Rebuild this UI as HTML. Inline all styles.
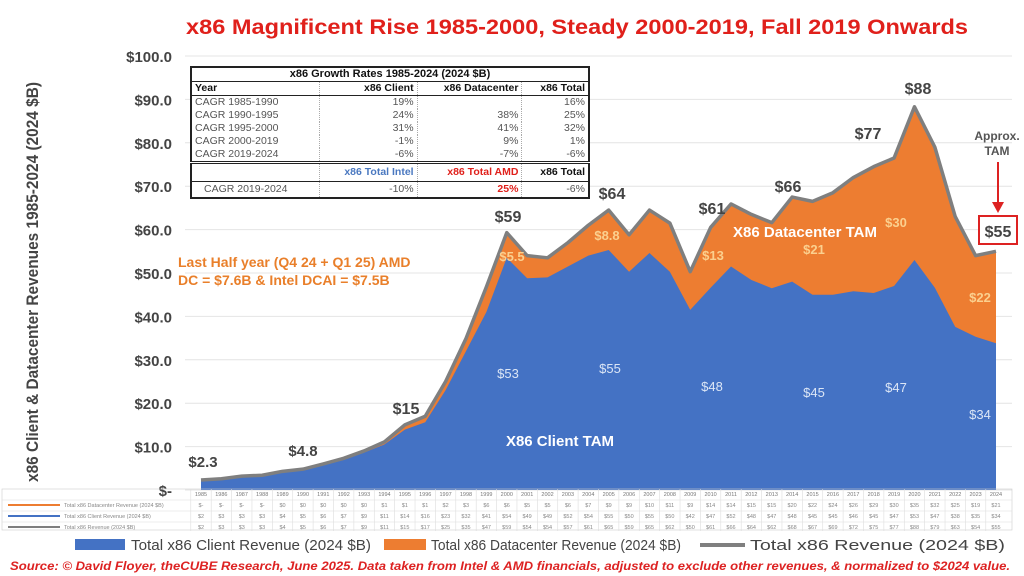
<!DOCTYPE html>
<html><head><meta charset="utf-8"><style>
body{margin:0;width:1024px;height:576px;background:#fff;font-family:"Liberation Sans",sans-serif;overflow:hidden;position:relative}
#cagr{position:absolute;left:190px;top:66px;width:400px;border:2px solid #222;border-collapse:collapse;font-size:10.5px;background:#fff}
#cagr td{padding:0 3px;height:13px;line-height:13px;border-right:1px dotted #aaa;color:#555}
#cagr .h td{font-weight:bold;color:#111}
#cagr td.r{text-align:right}
</style></head><body>
<svg id="chart" width="1024" height="576" style="position:absolute;left:0;top:0" font-family="Liberation Sans, sans-serif">
<text x="186" y="34" textLength="782" lengthAdjust="spacingAndGlyphs" font-size="21" font-weight="bold" fill="#e0201b">x86 Magnificent Rise 1985-2000, Steady 2000-2019, Fall 2019 Onwards</text>
<text transform="translate(38,282) rotate(-90)" text-anchor="middle" textLength="400" lengthAdjust="spacingAndGlyphs" font-size="17" font-weight="bold" fill="#444">x86 Client &amp; Datacenter Revenues 1985-2024 (2024 $B)</text>
<g id="grid"></g><g id="areas"></g><g id="ylabels"></g><g id="dtable"></g>
<g font-weight="bold" text-anchor="middle">
<text x="203" y="467" font-size="15" fill="#444">$2.3</text>
<text x="303" y="456" font-size="15" fill="#444">$4.8</text>
<text x="406" y="414" font-size="16" fill="#444">$15</text>
<text x="508" y="222" font-size="16" fill="#444">$59</text>
<text x="612" y="199" font-size="16" fill="#444">$64</text>
<text x="712" y="214" font-size="16" fill="#444">$61</text>
<text x="788" y="192" font-size="16" fill="#444">$66</text>
<text x="868" y="139" font-size="16" fill="#444">$77</text>
<text x="918" y="94" font-size="16" fill="#444">$88</text>
<text x="997" y="140" font-size="12" fill="#555">Approx.</text>
<text x="997" y="155" font-size="12" fill="#555">TAM</text>
<line x1="998" y1="162" x2="998" y2="204" stroke="#d22" stroke-width="2"/>
<polygon points="992,202 1004,202 998,213" fill="#d22"/>
<rect x="979" y="216" width="38" height="28" fill="#fff" stroke="#d22" stroke-width="2"/>
<text x="998" y="237" font-size="16" fill="#444">$55</text>
<g fill="#fbd08f" font-size="13">
<text x="512" y="261">$5.5</text>
<text x="607" y="240">$8.8</text>
<text x="713" y="260">$13</text>
<text x="814" y="254">$21</text>
<text x="896" y="227">$30</text>
<text x="980" y="302">$22</text>
</g>
<g fill="#dce6f6" font-size="13" font-weight="normal">
<text x="508" y="378">$53</text>
<text x="610" y="373">$55</text>
<text x="712" y="391">$48</text>
<text x="814" y="397">$45</text>
<text x="896" y="392">$47</text>
<text x="980" y="419">$34</text>
</g>
<text x="805" y="237" font-size="15" fill="#fff">X86 Datacenter TAM</text>
<text x="560" y="446" font-size="15" fill="#fff">X86 Client TAM</text>
</g>
<text x="178" y="267" font-size="14" font-weight="bold" fill="#e97f2a">Last Half year (Q4 24 + Q1 25) AMD</text>
<text x="178" y="285" font-size="14" font-weight="bold" fill="#e97f2a">DC = $7.6B &amp; Intel DCAI = $7.5B</text>
<g font-size="15" fill="#444">
<rect x="75" y="539" width="50" height="11" fill="#4472c4"/><text x="131" y="550" textLength="240" lengthAdjust="spacingAndGlyphs">Total x86 Client Revenue (2024 $B)</text>
<rect x="384" y="539" width="42" height="11" fill="#ed7d31"/><text x="431" y="550" textLength="250" lengthAdjust="spacingAndGlyphs">Total x86 Datacenter Revenue (2024 $B)</text>
<line x1="700" y1="545" x2="745" y2="545" stroke="#7f7f7f" stroke-width="4"/><text x="750" y="550" textLength="255" lengthAdjust="spacingAndGlyphs">Total x86 Revenue (2024 $B)</text>
</g>
<text x="10" y="570" textLength="1000" lengthAdjust="spacingAndGlyphs" font-size="12" font-weight="bold" font-style="italic" fill="#d22">Source: © David Floyer, theCUBE Research, June 2025. Data taken from Intel &amp; AMD financials, adjusted to exclude other revenues, &amp; normalized to $2024 value.</text>
</svg>
<table id="cagr">
<tr class="h"><td colspan="4" style="text-align:center;font-size:11px;border-bottom:1px solid #222">x86 Growth Rates 1985-2024 (2024 $B)</td></tr>
<tr class="h" style="border-bottom:1px solid #222"><td>Year</td><td class="r">x86 Client</td><td class="r">x86 Datacenter</td><td class="r">x86 Total</td></tr>
<tr><td>CAGR 1985-1990</td><td class="r">19%</td><td class="r"></td><td class="r">16%</td></tr>
<tr><td>CAGR 1990-1995</td><td class="r">24%</td><td class="r">38%</td><td class="r">25%</td></tr>
<tr><td>CAGR 1995-2000</td><td class="r">31%</td><td class="r">41%</td><td class="r">32%</td></tr>
<tr><td>CAGR 2000-2019</td><td class="r">-1%</td><td class="r">9%</td><td class="r">1%</td></tr>
<tr style="border-bottom:3px double #222"><td>CAGR 2019-2024</td><td class="r">-6%</td><td class="r">-7%</td><td class="r">-6%</td></tr>
<tr class="h" style="border-bottom:1px solid #222"><td style="height:17px"></td><td class="r" style="color:#4a78c0">x86 Total Intel</td><td class="r" style="color:#e0201b">x86 Total AMD</td><td class="r">x86 Total</td></tr>
<tr><td style="padding-left:12px;height:15px">CAGR 2019-2024</td><td class="r">-10%</td><td class="r" style="color:#e0201b;font-weight:bold">25%</td><td class="r">-6%</td></tr>
</table>
<script>
const years=[1985,1986,1987,1988,1989,1990,1991,1992,1993,1994,1995,1996,1997,1998,1999,2000,2001,2002,2003,2004,2005,2006,2007,2008,2009,2010,2011,2012,2013,2014,2015,2016,2017,2018,2019,2020,2021,2022,2023,2024];
const clientRev=[2.3,2.6,3.2,3.4,4.0,4.6,5.8,6.9,8.6,10.5,13.9,15.6,23,32,41,53.5,48.8,49,51.5,54,55.3,50.3,54.6,50.3,41.5,46.6,51.5,48.4,46.5,48,45,45,45.8,45.4,47,53,46.6,37.6,35.3,33.8];
const dcRev=[0,0,0,0,0.3,0.2,0.2,0.4,0.4,0.6,1.1,1.4,2,2.9,5.8,5.8,5.2,4.5,5.5,7,9.2,8.5,9.9,11.2,8.8,13.9,14.4,15.1,15.1,19.5,21.5,23.5,26.2,29.1,29.5,35.3,32.4,25.4,18.7,21.2];
const yTicks=[0,10,20,30,40,50,60,70,80,90,100];
const NS="http://www.w3.org/2000/svg";
const X0=201,X1=996,Y0=490,Y1=56,VMAX=100;
const xs=i=>X0+(X1-X0)*i/(years.length-1);
const ys=v=>Y0-(Y0-Y1)*v/VMAX;
function mk(tag,attrs,parent){const e=document.createElementNS(NS,tag);for(const k in attrs)e.setAttribute(k,attrs[k]);parent.appendChild(e);return e;}
const grid=document.getElementById('grid'),yl=document.getElementById('ylabels');
yTicks.forEach(t=>{
 const l=mk('line',{x1:185,x2:1012,y1:ys(t),y2:ys(t),stroke:'#e4e4e4','stroke-width':1},grid);
 
 
 const tx=mk('text',{x:172,y:ys(t)+6,'text-anchor':'end','font-size':15,'font-weight':'bold',fill:'#444'},yl);
 tx.textContent=t===0?'$-':'$'+t.toFixed(1);
 
 
});
const totals=clientRev.map((c,i)=>c+dcRev[i]);
const areas=document.getElementById('areas');
let topPts=totals.map((v,i)=>xs(i)+','+ys(v)).join(' ');
let cPts=clientRev.map((v,i)=>xs(i)+','+ys(v)).join(' ');
const dcA=mk('polygon',{points:xs(0)+','+Y0+' '+topPts+' '+xs(years.length-1)+','+Y0,fill:'#ed7d31'},areas);


const cA=mk('polygon',{points:xs(0)+','+Y0+' '+cPts+' '+xs(years.length-1)+','+Y0,fill:'#4472c4'},areas);


const tl=mk('polyline',{points:topPts,fill:'none',stroke:'#7f7f7f','stroke-width':3.5,'stroke-linejoin':'round'},areas);


const dt=document.getElementById('dtable');
const rowsY=[494,505,516,527];
mk('rect',{x:2,y:rowsY[0]-5,width:1010,height:41,fill:'none',stroke:'#ccc','stroke-width':0.6},dt);
const rowData=[dcRev,clientRev,totals];
const rowCol=['#ed7d31','#4472c4','#7f7f7f'];
const rowName=['Total x86 Datacenter Revenue (2024 $B)','Total x86 Client Revenue (2024 $B)','Total x86 Revenue (2024 $B)'];
years.forEach((y,i)=>{
 const t=mk('text',{x:xs(i),y:rowsY[0]+2,'font-size':5.5,'text-anchor':'middle',fill:'#777'},dt);
 t.textContent=y;
 
 
 mk('line',{x1:xs(i)-10.2,x2:xs(i)-10.2,y1:rowsY[0]-5,y2:rowsY[3]+4,stroke:'#ddd','stroke-width':0.6},dt);
 rowData.forEach((arr,r)=>{
  const c=mk('text',{x:xs(i),y:rowsY[r+1]+2,'font-size':5.5,'text-anchor':'middle',fill:'#888'},dt);
  c.textContent=arr[i]<0.05?'$-':'$'+Math.round(arr[i]);
  
  
 });
});
rowName.forEach((n,r)=>{
 mk('line',{x1:8,x2:60,y1:rowsY[r+1],y2:rowsY[r+1],stroke:rowCol[r],'stroke-width':2},dt);
 const t=mk('text',{x:64,y:rowsY[r+1]+2,'font-size':5.5,fill:'#888'},dt);
 t.textContent=n;
 
 
 mk('line',{x1:2,x2:1012,y1:rowsY[r+1]-5,y2:rowsY[r+1]-5,stroke:'#ddd','stroke-width':0.6},dt);
});
</script>
</body></html>
